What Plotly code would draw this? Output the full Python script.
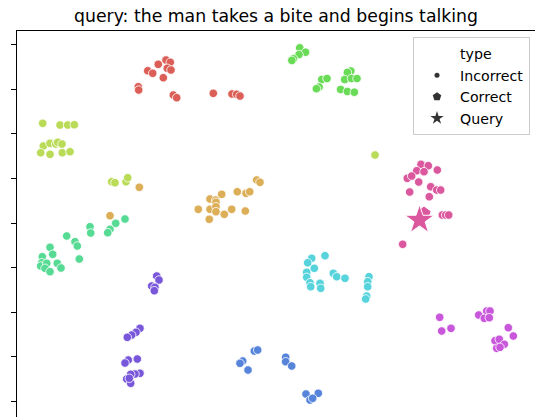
import plotly.graph_objects as go

# ---- data (t-SNE style embedding) ----
red_x = [-28.75, -27.63, -26.38, -24.65, -23.69, -24.36, -23.53, -25.25, -30.86, -30.77, -23.01, -22.25, -14.05, -9.86, -8.81, -8.07]
red_y = [34.13, 33.55, 35.56, 36.53, 36.01, 34.67, 34.29, 32.56, 30.54, 29.80, 28.68, 28.08, 29.06, 28.91, 28.84, 28.46]

orange_x = [-30.63, -37.20, -17.41, -14.79, -13.51, -13.45, -12.17, -14.79, -13.45, -13.45, -14.95, -11.59, -9.93, -8.67, -6.88, -6.72, -5.89, -4.32, -3.59]
orange_y = [8.00, 1.64, 3.07, 5.38, 5.15, 4.64, 6.43, 3.07, 3.65, 2.53, 0.83, 1.95, 3.07, 7.01, 2.69, 6.66, 7.01, 9.64, 9.12]

lime_x = [-52.28, -48.40, -46.68, -45.20, -52.15, -50.64, -49.37, -48.92, -47.96, -52.73, -50.64, -47.89, -46.16, -36.82, -36.08, -33.61, -33.23, 22.19]
lime_y = [22.34, 21.96, 21.96, 22.03, 17.25, 17.86, 17.70, 18.08, 17.70, 15.75, 15.40, 15.75, 15.98, 9.25, 9.03, 9.25, 10.15, 15.24]

green_x = [5.31, 6.61, 5.15, 3.92, 3.54, 10.26, 11.43, 9.66, 9.05, 16.78, 16.00, 15.40, 16.92, 18.15, 14.48, 16.00, 17.55]
green_y = [39.26, 38.27, 37.74, 36.82, 36.44, 32.16, 32.38, 30.48, 30.10, 34.06, 33.75, 32.16, 32.38, 32.38, 29.94, 29.47, 29.31]

teal_x = [-33.84, -35.92, -37.20, -37.71, -41.68, -41.52, -45.04, -44.53, -46.90, -44.08, -50.64, -50.04, -52.37, -52.50, -52.73, -51.38, -51.76, -50.64, -49.01, -48.18]
teal_y = [0.90, -0.07, -1.41, -2.17, -0.83, -2.24, -4.19, -5.15, -2.91, -8.07, -5.45, -7.01, -7.55, -8.90, -9.64, -9.03, -10.15, -10.91, -9.03, -10.08]

cyan_x = [8.00, 7.10, 10.98, 8.58, 6.88, 6.88, 7.62, 7.78, 9.86, 10.02, 12.84, 13.60, 15.46, 20.84, 20.55, 20.55, 20.33, 20.10]
cyan_y = [-7.91, -8.90, -7.33, -10.15, -11.05, -12.17, -13.38, -14.27, -13.51, -14.63, -11.27, -12.03, -12.39, -12.03, -13.15, -14.27, -16.36, -17.03]

blue_x = [-4.86, -4.10, -7.46, -8.07, -6.27, 2.17, 2.17, 3.52, 6.72, 9.48, 7.62, 8.22]
blue_y = [-28.68, -28.46, -30.92, -31.44, -32.94, -30.10, -31.08, -32.04, -38.32, -38.16, -39.66, -39.28]

purple_x = [-26.73, -26.22, -27.85, -27.12, -27.27, -30.48, -31.37, -32.34, -33.32, -31.08, -33.10, -33.84, -30.48, -31.60, -32.56, -33.46, -32.56, -32.87]
purple_y = [-11.88, -12.77, -14.12, -14.41, -15.17, -23.60, -24.49, -25.10, -25.61, -30.48, -30.70, -31.37, -33.68, -33.84, -33.90, -34.96, -35.92, -34.80]

magenta_x = [36.68, 37.13, 39.22, 45.42, 47.22, 47.96, 46.68, 47.80, 52.06, 53.18, 49.08, 50.04, 51.16, 49.46, 50.20]
magenta_y = [-21.13, -24.20, -23.60, -20.62, -19.72, -19.72, -21.36, -21.22, -23.46, -25.32, -26.38, -26.06, -27.18, -28.08, -27.86]

pink_x = [32.49, 34.13, 31.53, 33.17, 36.15, 29.42, 30.41, 31.98, 34.67, 36.01, 36.91, 29.96, 34.35, 37.27, 38.03, 38.70, 28.39]
pink_y = [13.15, 12.84, 11.72, 11.50, 11.88, 10.02, 10.53, 9.19, 8.13, 7.39, 7.39, 6.95, 5.89, 1.79, 1.79, 1.79, -4.77]

correct_x = [33.17]
correct_y = [2.13]
query_x = [32.16]
query_y = [0.67]

title_text = "query: the man takes a bite and begins talking"
legend_labels = ["type", "Incorrect", "Correct", "Query"]
y_ticks = [-40, -30, -20, -10, 0, 10, 20, 30, 40]

# ---- styles ----
clusters = [
    (red_x, red_y, "#db5f57"),
    (orange_x, orange_y, "#dbae57"),
    (lime_x, lime_y, "#b9db57"),
    (green_x, green_y, "#69db57"),
    (teal_x, teal_y, "#57db94"),
    (cyan_x, cyan_y, "#57d3db"),
    (blue_x, blue_y, "#5784db"),
    (purple_x, purple_y, "#7957db"),
    (magenta_x, magenta_y, "#c957db"),
    (pink_x, pink_y, "#db579e"),
]
FONT = "DejaVu Sans"

fig = go.Figure()
for xs, ys, col in clusters:
    fig.add_trace(go.Scatter(
        x=xs, y=ys, mode="markers", showlegend=False, hoverinfo="skip",
        marker=dict(symbol="circle", size=8.5, color=col, line=dict(color="white", width=0.8)),
    ))

fig.add_trace(go.Scatter(
    x=correct_x, y=correct_y, mode="markers", showlegend=False, hoverinfo="skip",
    marker=dict(symbol="pentagon", size=15, color="#db579e", line=dict(color="white", width=1)),
))
fig.add_trace(go.Scatter(
    x=query_x, y=query_y, mode="markers", showlegend=False, hoverinfo="skip",
    marker=dict(symbol="star", size=22, color="#db579e", line=dict(color="white", width=1)),
))

# legend entries (dummy traces)
leg_symbols = ["circle", "circle", "pentagon", "star"]
leg_sizes = [5, 5, 9, 10]
leg_colors = ["rgba(0,0,0,0)", "#333333", "#333333", "#333333"]
for lab, sym, sz, colr in zip(legend_labels, leg_symbols, leg_sizes, leg_colors):
    fig.add_trace(go.Scatter(
        x=[None], y=[None], mode="markers", name=lab, showlegend=True,
        marker=dict(symbol=sym, size=sz, color=colr, line=dict(width=0, color="rgba(0,0,0,0)")),
    ))

W, H = 535, 417
ml, mt = 17, 31
fig.update_layout(
    width=W, height=H,
    margin=dict(l=ml, r=0, t=mt, b=0, pad=0),
    paper_bgcolor="white", plot_bgcolor="white",
    font=dict(family=FONT, color="black"),
    title=dict(text=title_text, x=0.5, xref="paper", xanchor="center",
               y=1 - 15.5 / H, yref="container", yanchor="middle",
               font=dict(family=FONT, size=17.3, color="black")),
    showlegend=True,
    legend=dict(
        x=(413 - ml) / (W - ml), xanchor="left",
        y=1 - (37 - mt) / (H - mt), yanchor="top",
        bgcolor="rgba(255,255,255,0.8)", bordercolor="#cccccc", borderwidth=1,
        font=dict(family=FONT, size=14.2, color="black"),
        itemsizing="trace", itemwidth=36, itemclick=False, itemdoubleclick=False,
    ),
    xaxis=dict(range=[-58.04, 58.04], showgrid=False, zeroline=False, showline=True,
               linecolor="black", linewidth=1, side="top", ticks="", showticklabels=False),
    yaxis=dict(range=[-43.47, 43.03], showgrid=False, zeroline=False, showline=True,
               linecolor="black", linewidth=1, ticks="outside", ticklen=5, tickwidth=1,
               tickcolor="black", tickvals=y_ticks, showticklabels=False),
)

fig.write_html("out.html", config={"displayModeBar": False, "staticPlot": True},
               post_script="document.body.style.margin='0';document.body.style.overflow='hidden';")
